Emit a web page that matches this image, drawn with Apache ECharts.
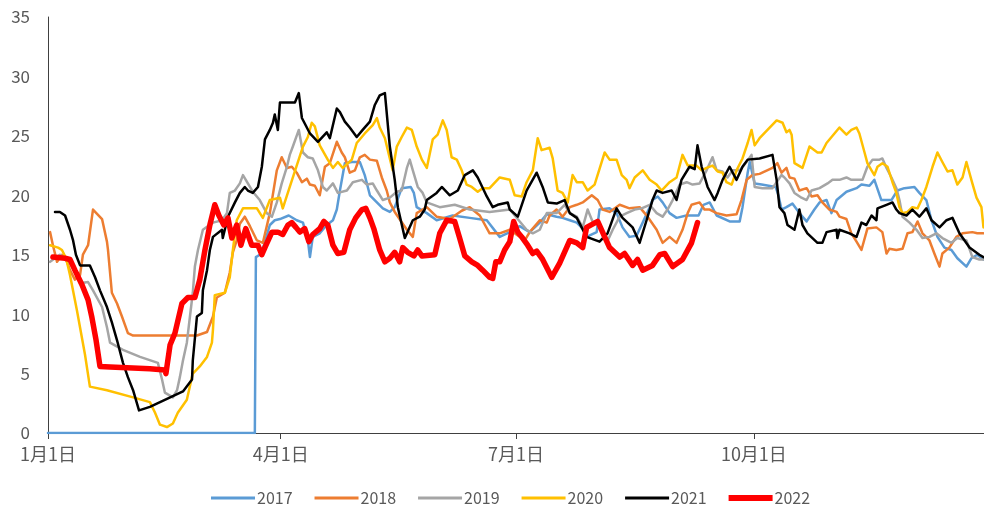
<!DOCTYPE html>
<html>
<head>
<meta charset="utf-8">
<script src="https://cdn.jsdelivr.net/npm/echarts@6/dist/echarts.min.js"></script>
<style>
html,body{margin:0;padding:0;background:#fff;}
#c{width:984px;height:514px;}
</style>
</head>
<body>
<div id="c"></div>
<script>
// x = day of year (0 = 1月1日), y = value
var tickDays = [0, 90, 181, 273];
var tickLabels = ['1月1日', '4月1日', '7月1日', '10月1日'];
var yTicks = [0, 5, 10, 15, 20, 25, 30, 35];
var seriesNames = ['2017', '2018', '2019', '2020', '2021', '2022'];

var s2017 = [[0,0],[80.0,0],[80.4,14.8],[81.9,15.0],[83.5,15.8],[85.8,17.5],[87.7,17.9],[89.7,18.0],[93.1,18.3],[96.2,17.9],[98.6,17.7],[100.5,16.2],[101.3,14.8],[102.4,16.5],[105.1,16.8],[107.8,17.5],[110.2,17.9],[111.7,18.8],[112.9,20.4],[114.8,22.7],[117.5,22.8],[120.6,22.8],[122.5,21.7],[124.5,20.0],[127.2,19.4],[129.5,18.9],[132.2,18.6],[134.1,19.0],[136.8,20.6],[140.3,20.7],[141.5,20.2],[142.6,19.0],[146.5,18.5],[150.3,17.9],[156.5,18.3],[163.1,18.1],[169.7,17.9],[174.7,16.5],[178.6,16.9],[182.4,17.4],[186.3,16.9],[190.2,17.7],[192.9,18.4],[196.7,18.2],[199.0,18.1],[201.8,17.9],[204.5,17.7],[206.8,17.2],[208.3,16.5],[212.2,16.9],[213.3,18.8],[217.2,18.9],[219.9,18.5],[222.2,17.3],[224.9,16.5],[227.6,16.6],[230.0,17.7],[232.7,19.0],[233.8,19.6],[235.8,19.9],[237.7,19.4],[240.4,18.5],[243.1,18.1],[246.9,18.3],[251.6,18.3],[253.5,19.2],[255.9,19.4],[258.6,18.3],[263.6,17.8],[267.5,17.8],[268.6,19.0],[270.6,21.9],[271.4,22.8],[273.3,21.0],[276.0,20.9],[281.4,20.7],[282.5,20.0],[283.7,18.8],[285.6,19.0],[287.9,19.3],[290.6,18.5],[293.4,17.8],[296.4,18.8],[298.4,19.4],[301.1,19.6],[303.0,18.5],[305.0,19.6],[308.8,20.3],[312.7,20.6],[314.6,20.9],[317.7,20.8],[319.6,21.3],[322.3,19.6],[326.2,19.6],[328.5,20.4],[331.2,20.6],[335.1,20.7],[337.0,20.2],[339.7,19.6],[341.7,17.9],[344.0,16.5],[346.7,15.6],[349.4,15.4],[351.7,14.7],[355.2,14.0],[357.1,14.7],[359.4,15.0],[361.8,14.6]];

var s2018 = [[0.8,16.9],[1.9,15.8],[3.5,14.4],[5.4,15.0],[7.0,14.6],[8.5,13.7],[10.4,12.9],[12.4,13.3],[13.5,15.0],[15.5,15.8],[17.4,18.8],[20.9,18.0],[22.8,16.1],[23.2,15.4],[24.7,11.8],[26.7,10.9],[28.6,9.8],[30.9,8.4],[32.9,8.2],[57.6,8.2],[61.5,8.5],[63.8,9.8],[65.3,11.4],[68.4,11.8],[70.3,13.5],[71.5,15.2],[73.0,16.2],[74.2,17.6],[76.1,18.2],[78.1,17.4],[80.8,16.2],[83.1,16.0],[85.8,18.5],[88.5,22.1],[90.4,23.2],[92.4,22.3],[94.3,22.4],[96.2,21.9],[98.2,21.1],[100.1,21.4],[101.3,20.9],[103.2,20.8],[105.1,20.0],[107.1,22.4],[109.0,22.7],[111.7,24.5],[113.6,23.6],[114.8,23.2],[116.7,21.9],[118.7,22.1],[120.6,23.2],[122.5,23.4],[124.5,23.0],[127.2,22.9],[129.1,21.5],[131.0,20.4],[132.2,19.4],[134.1,18.6],[138.8,17.1],[141.1,16.5],[142.6,18.5],[146.5,19.0],[150.3,18.2],[155.4,18.0],[160.0,18.7],[163.1,19.0],[167.0,18.3],[170.8,16.8],[174.7,16.8],[178.6,17.1],[184.4,16.2],[186.3,16.9],[190.2,17.9],[192.9,17.7],[194.0,18.3],[196.7,18.8],[199.0,18.2],[201.8,19.0],[204.5,19.2],[206.8,19.4],[210.3,20.0],[212.6,19.6],[214.5,18.8],[217.2,18.6],[221.1,19.2],[224.9,18.9],[228.8,19.0],[231.9,18.2],[235.4,17.1],[237.7,16.0],[240.4,16.5],[243.1,16.0],[245.4,17.1],[247.4,18.5],[248.9,19.2],[252.0,19.4],[253.9,18.8],[255.9,18.8],[258.6,18.5],[262.4,18.3],[266.3,18.4],[268.2,19.6],[270.2,21.3],[272.5,21.7],[275.2,21.8],[280.2,22.3],[282.1,22.7],[283.7,21.9],[285.6,22.3],[286.8,21.5],[288.7,21.4],[290.6,20.4],[293.4,20.6],[295.3,19.9],[297.6,20.0],[299.5,19.4],[302.2,18.8],[305.0,18.6],[306.1,18.2],[308.8,18.0],[310.7,16.8],[312.7,16.1],[314.6,15.4],[316.9,17.2],[320.4,17.3],[322.7,16.9],[324.3,15.1],[325.4,15.5],[328.1,15.4],[330.5,15.5],[332.4,16.8],[334.3,16.9],[336.3,17.8],[338.2,16.8],[340.9,16.2],[342.8,15.1],[344.8,14.0],[345.9,15.1],[348.6,15.6],[351.3,16.5],[353.7,16.8],[357.5,16.9],[359.4,16.8],[361.8,16.8]];

var s2019 = [[0.8,14.4],[4.6,15.0],[9.7,14.0],[12.4,12.6],[15.5,12.7],[17.4,12.0],[20.9,10.6],[22.8,8.9],[24.0,7.6],[29.0,7.0],[35.6,6.4],[42.5,5.9],[44.1,4.5],[45.2,3.4],[48.3,3.0],[49.9,3.6],[51.0,4.7],[52.2,6.1],[53.7,7.6],[54.9,9.8],[56.0,11.8],[56.8,14.0],[58.0,15.4],[59.9,17.1],[63.8,17.7],[67.3,17.9],[69.2,18.5],[70.3,20.2],[72.3,20.4],[74.2,21.0],[75.4,21.7],[77.3,21.0],[79.2,20.3],[81.9,19.6],[84.6,18.5],[86.6,18.2],[88.5,19.4],[90.4,21.0],[92.4,22.4],[93.5,23.4],[94.7,24.1],[97.0,25.5],[98.6,23.6],[100.5,23.2],[102.4,23.1],[104.4,22.1],[106.3,20.7],[107.8,20.4],[110.2,21.0],[112.1,20.2],[115.6,20.4],[117.9,21.1],[121.4,21.3],[123.3,20.9],[125.6,21.0],[127.2,20.4],[129.5,19.6],[132.2,19.8],[134.9,20.3],[136.8,20.4],[138.8,22.3],[139.9,23.0],[141.1,22.1],[143.0,20.7],[144.9,20.2],[146.5,19.4],[151.5,19.0],[157.3,19.2],[163.1,18.8],[170.8,18.6],[178.6,18.8],[185.1,17.1],[187.5,16.8],[190.2,17.1],[192.9,18.5],[196.7,18.5],[199.8,19.2],[201.8,18.5],[204.5,18.2],[206.8,17.3],[208.7,18.8],[210.6,17.8],[213.3,17.7],[216.1,16.0],[218.4,17.1],[221.1,18.2],[223.8,18.5],[226.9,18.8],[229.6,18.9],[232.7,19.2],[235.4,18.5],[237.7,18.2],[239.6,18.8],[241.6,19.6],[244.3,20.9],[247.0,21.1],[249.3,20.9],[252.0,21.0],[254.7,22.1],[257.0,23.2],[258.6,22.1],[260.9,22.0],[262.8,21.5],[264.8,22.1],[267.5,22.1],[270.2,22.8],[272.1,23.4],[273.3,20.7],[276.3,20.6],[280.2,20.6],[283.7,21.7],[284.8,21.5],[286.8,21.0],[288.7,20.2],[291.4,19.8],[293.4,19.6],[295.3,20.4],[298.4,20.6],[301.5,21.0],[303.4,21.3],[306.1,21.3],[308.8,21.5],[310.7,21.3],[312.7,21.3],[315.0,21.3],[316.9,22.4],[318.9,23.0],[321.6,23.0],[322.7,23.1],[324.3,22.3],[326.2,21.5],[328.1,20.6],[329.3,19.6],[330.5,18.2],[333.2,17.7],[335.9,17.1],[338.2,16.4],[340.9,16.5],[343.6,16.8],[345.9,16.4],[349.4,16.0],[351.7,16.4],[355.2,16.2],[357.5,14.8],[360.2,14.6],[361.8,14.6]];

var s2020 = [[0.8,15.8],[3.9,15.6],[5.4,15.4],[7.0,14.7],[8.5,13.3],[11.2,10.3],[14.3,6.6],[16.2,3.9],[22.8,3.6],[32.9,3.0],[39.4,2.6],[41.4,1.7],[43.3,0.7],[46.0,0.5],[48.3,0.8],[50.2,1.7],[53.7,2.8],[56.0,5.0],[58.7,5.6],[61.5,6.4],[63.4,7.6],[63.8,8.7],[64.5,11.6],[68.4,11.8],[70.3,13.1],[71.5,15.4],[73.0,17.9],[75.4,18.9],[80.8,18.9],[83.1,18.1],[85.8,19.6],[89.7,19.8],[90.8,18.9],[93.5,20.7],[98.6,24.1],[100.5,24.9],[102.0,26.1],[103.2,25.8],[105.1,24.2],[108.2,23.0],[110.2,22.3],[112.1,22.8],[114.0,22.3],[117.5,23.0],[119.4,24.4],[122.5,25.2],[125.6,25.9],[127.2,26.5],[128.3,25.7],[130.3,24.8],[133.3,22.1],[134.9,24.1],[136.8,24.9],[138.8,25.7],[140.7,25.5],[142.6,24.1],[144.6,23.0],[146.5,22.3],[148.8,24.7],[150.7,25.1],[152.7,26.3],[154.2,25.5],[156.1,23.2],[158.1,23.0],[160.0,22.1],[161.9,20.9],[163.9,20.7],[166.2,20.3],[168.1,20.6],[170.8,20.6],[174.7,21.5],[178.6,21.3],[180.5,20.0],[183.2,19.9],[185.1,21.1],[187.5,22.1],[189.4,24.8],[190.9,23.8],[194.0,24.0],[195.2,23.1],[197.1,20.4],[199.0,20.2],[201.0,19.4],[202.9,21.7],[204.5,21.1],[206.8,21.1],[208.7,20.4],[211.4,20.9],[215.3,23.6],[217.2,23.0],[219.9,23.0],[221.9,21.7],[223.8,21.3],[224.9,20.6],[226.9,21.5],[230.0,22.1],[232.7,21.3],[235.4,20.9],[237.3,20.4],[240.4,21.1],[243.1,21.5],[245.4,23.4],[247.4,22.5],[250.8,22.5],[252.8,22.1],[254.7,22.3],[257.0,22.5],[259.0,22.0],[260.9,21.9],[262.4,21.1],[264.4,20.9],[266.3,22.1],[268.6,23.1],[270.6,24.4],[272.1,25.5],[273.3,24.2],[275.2,24.8],[281.8,26.3],[284.1,26.1],[285.6,25.3],[286.8,25.5],[287.6,25.1],[288.7,22.7],[291.8,22.3],[294.5,24.1],[297.6,23.6],[299.2,23.6],[301.1,24.4],[306.1,25.7],[308.8,25.1],[310.7,25.5],[312.7,25.7],[313.8,25.2],[315.8,23.6],[316.9,22.7],[318.5,22.1],[319.6,21.7],[320.8,22.4],[322.7,22.7],[324.7,22.4],[326.6,21.1],[328.1,20.2],[329.3,19.0],[330.5,18.5],[332.4,18.6],[334.3,19.0],[336.3,18.9],[337.8,19.6],[339.7,20.7],[342.1,22.4],[344.0,23.6],[345.9,22.8],[347.9,22.0],[349.8,22.1],[351.7,20.9],[353.7,21.5],[355.2,22.8],[357.5,21.0],[359.1,19.8],[361.0,19.0],[361.8,17.3]];

var s2021 = [[2.7,18.6],[4.6,18.6],[6.6,18.3],[8.5,17.1],[9.7,16.2],[10.8,15.0],[12.4,14.1],[16.2,14.1],[18.2,13.1],[20.1,12.0],[22.8,10.6],[24.7,9.3],[26.7,7.8],[29.0,5.9],[30.9,4.7],[32.9,3.6],[35.2,1.9],[39.4,2.2],[52.2,3.5],[55.7,4.5],[56.0,6.1],[57.6,9.8],[59.5,10.1],[59.9,12.0],[61.5,13.7],[62.6,15.4],[63.8,16.5],[67.3,17.1],[67.6,16.4],[69.6,18.2],[72.3,19.4],[74.2,20.2],[76.1,20.7],[77.3,20.4],[79.2,20.2],[81.2,20.7],[82.7,22.4],[83.9,24.7],[85.8,25.5],[87.0,26.1],[87.7,26.8],[88.9,25.5],[89.7,27.8],[95.5,27.8],[97.0,28.6],[98.2,26.5],[101.3,25.2],[104.4,24.5],[107.8,25.3],[109.0,24.8],[111.7,27.3],[112.9,27.0],[114.8,26.2],[116.7,25.7],[119.4,24.9],[121.7,25.5],[124.5,26.2],[126.4,27.6],[128.3,28.4],[130.3,28.6],[132.2,24.1],[134.1,21.3],[135.3,19.0],[138.0,16.4],[141.1,17.9],[143.8,18.2],[145.7,18.8],[146.5,19.6],[150.3,20.2],[152.3,20.7],[155.4,20.0],[158.5,20.4],[161.2,21.7],[164.3,22.1],[166.2,21.5],[169.7,19.9],[172.0,19.0],[173.9,19.2],[177.8,19.4],[178.6,18.8],[181.7,18.2],[185.1,20.4],[189.0,21.9],[191.3,20.7],[193.3,19.4],[196.7,19.3],[199.8,19.6],[201.8,18.5],[204.5,18.1],[208.3,16.5],[213.3,16.1],[216.4,16.8],[219.9,18.9],[222.2,18.1],[226.1,17.3],[228.8,16.0],[231.5,17.9],[233.8,19.6],[235.4,20.4],[237.7,20.2],[241.2,20.4],[243.1,19.6],[245.0,21.3],[248.1,22.4],[250.1,22.2],[251.2,24.2],[252.8,22.4],[255.1,20.7],[257.8,19.6],[259.0,20.2],[260.9,21.3],[263.6,22.4],[266.3,21.3],[268.6,22.4],[270.6,23.0],[275.2,23.1],[280.2,23.4],[281.8,21.3],[282.9,19.0],[284.8,18.5],[286.0,17.5],[288.7,17.1],[290.6,18.8],[291.8,17.5],[293.7,16.8],[297.6,16.0],[299.5,16.0],[301.1,16.9],[305.0,17.1],[305.3,16.4],[306.1,17.1],[310.0,16.8],[312.7,16.5],[314.6,17.7],[316.5,17.5],[318.5,18.3],[320.4,17.9],[320.8,18.9],[324.3,19.2],[326.6,19.4],[328.1,18.8],[329.3,18.5],[332.0,18.3],[334.3,18.8],[337.0,18.2],[339.7,18.9],[341.7,17.9],[344.8,17.3],[347.5,17.9],[349.8,18.1],[352.5,16.8],[356.4,15.6],[360.2,15.0],[361.8,14.8]];

var s2022 = [[1.9,14.8],[6.6,14.7],[8.5,14.6],[10.4,13.7],[13.1,12.5],[15.5,11.2],[17.0,9.7],[18.6,7.8],[20.1,5.6],[24.0,5.55],[39.4,5.4],[45.2,5.3],[45.6,5.0],[47.2,7.4],[49.1,8.4],[51.8,10.9],[54.1,11.4],[56.8,11.4],[58.7,12.9],[60.7,15.4],[62.6,17.5],[64.5,19.2],[66.1,18.3],[68.0,17.5],[69.6,18.1],[71.1,16.4],[73.0,17.5],[74.6,15.8],[76.5,17.2],[78.8,15.8],[81.2,15.8],[82.7,15.0],[84.3,15.8],[86.6,16.9],[88.9,16.9],[90.8,16.7],[92.8,17.5],[94.3,17.7],[95.9,17.3],[97.4,16.9],[99.3,17.2],[100.9,16.1],[102.4,16.7],[105.1,17.2],[106.7,17.8],[108.2,17.5],[110.2,15.8],[112.1,15.1],[114.4,15.2],[116.7,17.1],[119.0,18.1],[121.4,18.8],[122.9,18.9],[124.5,18.1],[126.0,17.2],[128.3,15.4],[130.3,14.4],[132.2,14.7],[134.1,15.2],[136.0,14.4],[137.2,15.6],[139.1,15.2],[141.5,14.9],[143.0,15.4],[144.6,14.9],[149.6,15.0],[151.5,16.8],[154.2,17.9],[157.3,17.8],[159.2,16.4],[161.2,14.9],[163.9,14.4],[166.2,14.1],[168.1,13.7],[170.8,13.1],[172.0,13.0],[173.2,14.4],[174.7,14.4],[176.6,15.4],[178.6,16.1],[180.1,17.8],[181.7,16.9],[183.2,16.5],[185.5,15.8],[187.5,15.1],[189.0,15.3],[191.3,14.6],[194.8,13.1],[197.9,14.3],[201.8,16.2],[204.5,16.0],[206.8,15.6],[208.3,17.3],[212.6,17.8],[215.3,16.5],[217.2,15.6],[221.1,14.8],[223.0,15.1],[226.1,14.1],[228.0,14.6],[230.0,13.7],[233.8,14.1],[236.6,15.0],[238.5,15.1],[241.6,14.0],[245.4,14.6],[248.9,16.0],[251.2,17.7]];

var colors = ['#5B9BD5', '#ED7D31', '#A5A5A5', '#FFC000', '#000000', '#FF0000'];
var widths = [2.5, 2.5, 2.5, 2.5, 2.5, 5.5];
var legendIcons = ['path://M0,0H44V3H0Z', 'path://M0,0H44V3H0Z', 'path://M0,0H44V3H0Z',
                   'path://M0,0H44V3H0Z', 'path://M0,0H44V3H0Z', 'path://M0,0H44V6H0Z'];
var allData = [s2017, s2018, s2019, s2020, s2021, s2022];

var chart = echarts.init(document.getElementById('c'), null, {renderer: 'canvas'});
var txt = '#595959';
var fontFam = '"Noto Sans CJK SC", "Noto Sans", sans-serif';

var series = seriesNames.map(function (n, i) {
  return {
    name: n,
    type: 'line',
    data: allData[i],
    showSymbol: false,
    symbol: 'none',
    smooth: false,
    animation: false,
    z: i === 5 ? 10 : 2 + i,
    lineStyle: {color: colors[i], width: widths[i], join: 'round', cap: 'round'},
    itemStyle: {color: colors[i]}
  };
});

chart.setOption({
  backgroundColor: '#ffffff',
  animation: false,
  color: colors,
  grid: {left: 48, right: 0, top: 17, bottom: 81, containLabel: false},
  legend: {
    bottom: 3,
    left: 206,
    itemWidth: 44,
    itemHeight: 12,
    itemGap: 22,
    symbolKeepAspect: true,
    data: seriesNames.map(function (n, i) {
      return {name: n, icon: legendIcons[i], itemStyle: {color: colors[i], borderWidth: 0}};
    }),
    textStyle: {color: txt, fontSize: 16, fontFamily: fontFam, padding: [0, 0, 0, -3]}
  },
  xAxis: {
    type: 'value',
    min: 0,
    max: 362,
    splitLine: {show: false},
    axisLine: {show: true, lineStyle: {color: '#404040', width: 1}},
    axisTick: {show: true, length: 6, customValues: tickDays, lineStyle: {color: '#404040'}},
    axisLabel: {
      customValues: tickDays,
      margin: 12,
      color: txt,
      fontSize: 18,
      fontFamily: fontFam,
      formatter: function (v) {
        var k = tickDays.indexOf(Math.round(v));
        return k >= 0 ? tickLabels[k] : '';
      }
    }
  },
  yAxis: {
    type: 'value',
    min: yTicks[0],
    max: yTicks[yTicks.length - 1],
    interval: 5,
    splitLine: {show: false},
    axisLine: {show: true, lineStyle: {color: '#404040', width: 1}},
    axisTick: {show: false},
    axisLabel: {margin: 18, color: txt, fontSize: 17, fontFamily: fontFam}
  },
  series: series
});
</script>
</body>
</html>
